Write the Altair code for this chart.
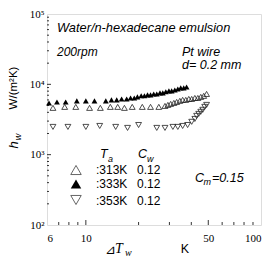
import altair as alt
import pandas as pd

# Wall superheat dT_w (K) and heat transfer coefficient h_w (W/m2K), Pt wire d=0.2 mm
dt_313 = [6.49, 7.57, 8.76, 10.5, 12.1, 13.8, 15.2, 16.6, 18.4, 21.0, 23.4, 26.1, 28.3, 29.4,
          30.5, 31.8, 33.0, 34.4, 35.7, 37.2, 38.7, 40.2, 41.9, 43.6, 45.3, 47.1, 48.9]
h_313 = [4630, 4780, 4780, 4630, 4630, 4780, 4780, 4630, 4780, 4780, 4780, 4780, 4930, 5100,
         5270, 5440, 5620, 5820, 6010, 6010, 6200, 6200, 6400, 6400, 6630, 6860, 7300]

dt_333 = [6.16, 6.84, 7.67, 8.88, 10.0, 11.2, 13.0, 14.0, 15.0, 16.0, 17.1, 18.0, 18.9, 19.7,
          20.7, 21.6, 22.5, 23.4, 24.4, 25.4, 26.5, 27.5, 28.6, 29.8, 30.9, 32.2, 33.5, 34.8,
          36.2, 37.6]
h_333 = [5440, 5620, 5620, 5820, 5820, 5820, 5820, 6010, 6010, 6200, 6200, 6400, 6400, 6630,
         6860, 6860, 7080, 7080, 7300, 7300, 7560, 7560, 7820, 8070, 8070, 8320, 8610, 8900,
         8900, 9180]

dt_353 = [6.49, 7.9, 10.0, 12.0, 14.8, 17.3, 20.0, 25.4, 28.3, 31.4, 33.5, 35.7, 38.1, 40.2,
          41.9, 42.9, 44.1, 45.3, 46.5, 47.7, 48.9]
h_353 = [2480, 2480, 2480, 2560, 2480, 2400, 2640, 2400, 2400, 2480, 2480, 2560, 2640, 2930,
         3220, 3560, 3800, 4070, 4340, 4780, 5100]

# axis tick values
x_labels = [6, 10, 50, 100]
x_major = [10, 50]
x_minor = [7, 8, 9, 20, 30, 40, 60, 70, 80, 90]
y_labels = [100, 1000, 10000, 100000]
y_major = [1000, 10000]
y_minor = [m * 10 ** k for k in (2, 3, 4) for m in range(2, 10)]

W, H = 214, 211
SANS = "Liberation Sans"
SERIF = "Liberation Serif"

xs = alt.Scale(type="log", domain=[6, 100], nice=False)
ys = alt.Scale(type="log", domain=[100, 100000], nice=False)

x_axis = alt.Axis(values=x_labels, title=None, ticks=False, domain=False, grid=False,
                  labelFont=SERIF, labelFontSize=11, labelColor="black", labelPadding=7,
                  labelFlush=True, format="d")
y_axis = alt.Axis(values=y_labels, title=None, ticks=False, domain=False, grid=False,
                  labelFont=SERIF, labelFontSize=11, labelColor="black", labelPadding=3,
                  labelExpr="datum.value == 100 ? '10²' : datum.value == 1000 ? '10³' : "
                            "datum.value == 10000 ? '10⁴' : '10⁵'")


def series(dts, hs, shape, filled):
    df = pd.DataFrame({"dt": dts, "h": hs})
    kw = dict(shape=shape, size=34, opacity=1)
    if filled:
        kw.update(filled=True, color="black")
    else:
        kw.update(filled=False, color="#222", strokeWidth=0.8)
    return alt.Chart(df).mark_point(**kw).encode(
        x=alt.X("dt:Q", scale=xs, axis=x_axis),
        y=alt.Y("h:Q", scale=ys, axis=y_axis),
    )


def xticks(vals, length):
    return alt.Chart(pd.DataFrame({"v": vals})).mark_rule(color="black", strokeWidth=0.8).encode(
        x=alt.X("v:Q", scale=xs, axis=x_axis), y=alt.value(H), y2=alt.value(H - length))


def yticks(vals, length):
    return alt.Chart(pd.DataFrame({"v": vals})).mark_rule(color="black", strokeWidth=0.8).encode(
        y=alt.Y("v:Q", scale=ys, axis=y_axis), x=alt.value(0), x2=alt.value(length))


def label(text, x, y, size=12, italic=False, font=SANS, align="left", angle=0):
    kw = dict(text=text, fontSize=size, font=font, align=align, baseline="middle",
              color="black")
    if italic:
        kw["fontStyle"] = "italic"
    if angle:
        kw["angle"] = angle
    return alt.Chart(pd.DataFrame({"k": [0]})).mark_text(**kw).encode(
        x=alt.value(x), y=alt.value(y))


def legend_marker(shape, filled, x, y):
    kw = dict(shape=shape, size=110, opacity=1)
    if filled:
        kw.update(filled=True, color="black")
    else:
        kw.update(filled=False, color="#555", strokeWidth=0.9)
    return alt.Chart(pd.DataFrame({"k": [0]})).mark_point(**kw).encode(
        x=alt.value(x), y=alt.value(y))


layers = [
    xticks(x_major, 5), xticks(x_minor, 3),
    yticks(y_major, 4), yticks(y_minor, 2),
    series(dt_313, h_313, "triangle-up", False),
    series(dt_333, h_333, "triangle-up", True),
    series(dt_353, h_353, "triangle-down", False),
    # annotations
    label("Water/n-hexadecane emulsion", 10, 14, size=12.8, italic=True),
    label("200rpm", 10, 38, size=12, italic=True),
    label("Pt wire", 135, 38, size=12.5, italic=True),
    label("d= 0.2 mm", 135, 51, size=12.5, italic=True),
    label("C", 148, 164, size=12.5, italic=True),
    label("m", 156.5, 168, size=9, italic=True),
    label("=0.15", 165, 164, size=12.5, italic=True),
    # legend
    label("T", 53, 140, size=12.5, italic=True),
    label("a", 61, 145, size=9, italic=True),
    label("C", 91, 140, size=12.5, italic=True),
    label("w", 100, 145, size=9, italic=True),
    legend_marker("triangle-up", False, 29, 156),
    legend_marker("triangle-up", True, 29, 170),
    legend_marker("triangle-down", False, 29, 186),
    label(":313K", 49, 156, size=12),
    label(":333K", 49, 170, size=12),
    label(":353K", 49, 186.5, size=12),
    label("0.12", 90, 156, size=12),
    label("0.12", 90, 170, size=12),
    label("0.12", 90, 186.5, size=12),
    # axis titles
    label("⊿", 58, 236, size=13, font="DejaVu Sans"),
    label("T", 68, 235, size=14, italic=True, font=SERIF),
    label("w", 78, 239, size=10, italic=True, font=SERIF),
    label("K", 138, 235, size=12.5, align="center"),
    label("W/(m²K)", -33, 74, size=11.5, align="center", angle=270),
    label("h", -33, 131, size=13, italic=True, align="center", angle=270),
    label("w", -29, 123, size=9, italic=True, align="center", angle=270),
]

chart = alt.layer(*layers).properties(
    width=W, height=H,
    autosize=alt.AutoSizeParams(type="none"),
    padding={"left": 47, "top": 14, "right": 4, "bottom": 35},
).configure_view(
    stroke="black", strokeWidth=1
).configure(background="white")

chart.save("out.html", embed_options={"renderer": "svg", "actions": False})
